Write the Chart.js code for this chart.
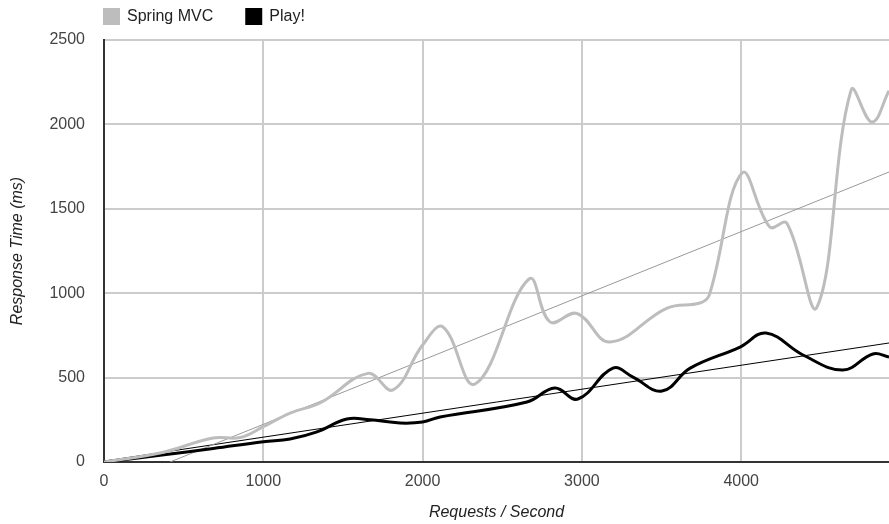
<!DOCTYPE html>
<html>
<head>
<meta charset="utf-8">
<script src="https://cdn.jsdelivr.net/npm/chart.js@4.4.0/dist/chart.umd.min.js"></script>
<style>
html, body { margin: 0; padding: 0; background: #fff; }
</style>
</head>
<body>
<canvas id="lineChartCanva" width="889" height="524"></canvas>
<script>
// Data
var springX = [0, 352, 685, 855, 1000, 1168, 1356, 1657, 1814, 2000, 2128, 2330, 2668, 2800, 2970, 3177, 3535, 3741, 3800, 4005, 4180, 4287, 4476, 4690, 4821, 4928];
var springY = [0, 53, 142, 145, 209, 290, 350, 525, 427, 693, 800, 462, 1084, 830, 880, 711, 912, 942, 990, 1712, 1392, 1415, 918, 2203, 2014, 2200];

var playX = [0, 352, 685, 1000, 1168, 1337, 1525, 1670, 1858, 2000, 2110, 2655, 2830, 2975, 3195, 3321, 3503, 3680, 3993, 4156, 4388, 4639, 4827, 4928];
var playY = [0, 40, 80, 120, 136, 178, 255, 250, 231, 237, 267, 355, 438, 373, 556, 503, 420, 556, 681, 764, 634, 545, 640, 622];

// trend lines (end points)
var springTrendX = [414, 4928];
var springTrendY = [0, 1718];
var playTrendX = [0, 4928];
var playTrendY = [5, 705];

var xTicks = [0, 1000, 2000, 3000, 4000];
var yTicks = [0, 500, 1000, 1500, 2000, 2500];

function toPoints(xs, ys) {
    return xs.map(function (x, i) { return { x: x, y: ys[i] }; });
}

var fontFamily = '"Liberation Sans", Arial, sans-serif';

// legend drawn above the plot, starting at the plot's left edge
var legendPlugin = {
    id: 'topLegend',
    afterDraw: function (chart) {
        var c = chart.ctx;
        var x = chart.chartArea.left - 1;
        c.save();
        c.font = '16px ' + fontFamily;
        c.textBaseline = 'middle';
        chart.data.datasets.forEach(function (ds) {
            if (ds.trend) return;
            c.fillStyle = ds.borderColor;
            c.fillRect(x, 8, 17, 17);
            c.fillStyle = '#222';
            c.fillText(ds.label, x + 24, 17);
            x += 24 + c.measureText(ds.label).width + 32;
        });
        c.restore();
    }
};

var chartData = {
    datasets: [
        {
            label: 'Spring MVC',
            data: toPoints(springX, springY),
            borderColor: '#bdbdbd',
            borderWidth: 3,
            tension: 0.4
        },
        {
            label: 'Play!',
            data: toPoints(playX, playY),
            borderColor: '#000000',
            borderWidth: 3,
            tension: 0.4
        },
        {
            label: 'Spring MVC trend',
            trend: true,
            data: toPoints(springTrendX, springTrendY),
            borderColor: '#999999',
            borderWidth: 1
        },
        {
            label: 'Play! trend',
            trend: true,
            data: toPoints(playTrendX, playTrendY),
            borderColor: '#000000',
            borderWidth: 1
        }
    ]
};

function plain(v) { return String(v); }

var chartOptions = {
    responsive: false,
    animation: false,
    layout: { padding: { top: 40, left: 0, right: 0, bottom: 0 } },
    elements: { point: { radius: 0 } },
    plugins: {
        legend: { display: false },
        tooltip: { enabled: false }
    },
    scales: {
        x: {
            type: 'linear',
            min: 0,
            max: 4928,
            afterFit: function (scale) { scale.height = 62; },
            afterBuildTicks: function (scale) {
                scale.ticks = xTicks.map(function (v) { return { value: v }; });
            },
            ticks: {
                color: '#444',
                padding: 10,
                maxRotation: 0,
                callback: plain,
                font: { family: fontFamily, size: 16 }
            },
            grid: { color: '#cccccc', lineWidth: 2, drawTicks: false },
            border: { color: '#333333', width: 2 },
            title: {
                display: true,
                text: 'Requests / Second',
                color: '#222',
                padding: { top: 2, bottom: 2 },
                font: { family: fontFamily, size: 16, style: 'italic' }
            }
        },
        y: {
            min: 0,
            max: 2500,
            afterFit: function (scale) { scale.width = 104; },
            afterBuildTicks: function (scale) {
                scale.ticks = yTicks.map(function (v) { return { value: v }; });
            },
            ticks: {
                color: '#444',
                padding: 19,
                callback: plain,
                font: { family: fontFamily, size: 16 }
            },
            grid: { color: '#cccccc', lineWidth: 2, drawTicks: false },
            border: { color: '#333333', width: 2 },
            title: {
                display: true,
                text: 'Response Time (ms)',
                color: '#222',
                padding: { top: 8, bottom: 2 },
                font: { family: fontFamily, size: 16, style: 'italic' }
            }
        }
    }
};

var ctx = document.getElementById('lineChartCanva').getContext('2d');
var lineChart = new Chart(ctx, {
    type: 'line',
    data: chartData,
    options: chartOptions,
    plugins: [legendPlugin]
});
</script>
</body>
</html>
